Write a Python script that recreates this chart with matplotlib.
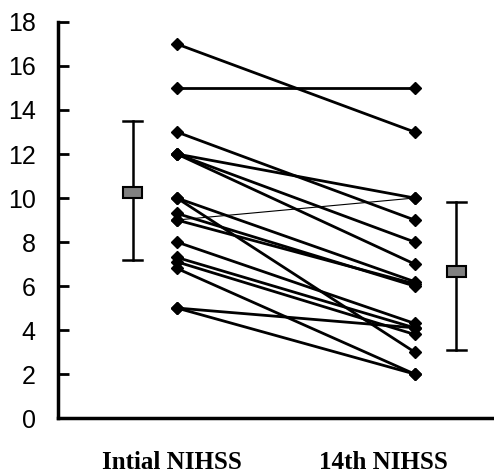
import matplotlib
matplotlib.use("Agg")
import matplotlib.pyplot as plt
from matplotlib.patches import Rectangle

# paired NIHSS scores (initial -> day 14)
initial = [17, 15, 13, 12, 12, 12, 10, 10, 9.3, 9, 9, 8, 7.3, 7.1, 6.8, 5, 5]
day14 = [13, 15, 9, 10, 8, 7, 6.2, 3, 6.0, 6.1, 10, 4.3, 4.1, 3.8, 2, 4.1, 2]
thin_pair = 10  # the one patient that got worse, drawn with a thin line

# summary bars: centre, lower whisker, upper whisker
summary_mid = [10.25, 6.65]
summary_low = [7.2, 3.1]
summary_high = [13.5, 9.8]

categories = ["Intial NIHSS", "14th NIHSS"]
y_ticks = [0, 2, 4, 6, 8, 10, 12, 14, 16, 18]


def main():
    fig = plt.figure(figsize=(4.94, 4.76), dpi=100)
    ax = fig.add_axes([0.1174, 0.1218, 0.8806, 0.832])

    for i, (a, b) in enumerate(zip(initial, day14)):
        lw = 0.8 if i == thin_pair else 2.0
        ax.plot([1, 2], [a, b], color="black", lw=lw,
                marker="D", ms=6, mfc="black", mec="black", zorder=3)

    # mean / spread markers beside each column
    for xc, mid, lo, hi in zip([0.815, 2.176], summary_mid, summary_low, summary_high):
        ax.plot([xc, xc], [lo, hi], color="black", lw=1.8, zorder=2)
        ax.plot([xc - 0.04, xc + 0.04], [hi, hi], color="black", lw=1.8)
        ax.plot([xc - 0.04, xc + 0.04], [lo, lo], color="black", lw=1.8)
        ax.add_patch(Rectangle((xc - 0.04, mid - 0.25), 0.08, 0.5,
                               facecolor="#808080", edgecolor="black",
                               lw=1.5, zorder=4))

    ax.set_xlim(0.5, 2.33)
    ax.set_ylim(0, 18)
    ax.set_yticks(y_ticks)
    ax.set_yticklabels([str(t) for t in y_ticks],
                       fontfamily="Liberation Sans", fontsize=18)
    ax.tick_params(axis="y", direction="in", length=8, width=2, pad=16)

    ax.set_xticks([0.98, 1.87])
    ax.set_xticklabels(categories, fontfamily="Liberation Serif",
                       fontweight="bold", fontsize=18)
    ax.tick_params(axis="x", length=0, pad=24)

    for side in ["top", "right"]:
        ax.spines[side].set_visible(False)
    for side in ["left", "bottom"]:
        ax.spines[side].set_linewidth(2.5)

    fig.savefig("out.png", dpi=100)


if __name__ == "__main__":
    main()
